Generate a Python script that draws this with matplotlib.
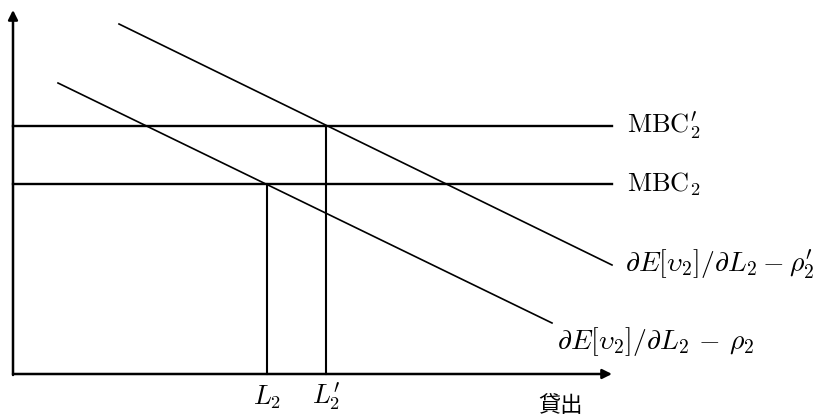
import matplotlib
matplotlib.use('Agg')
import matplotlib.pyplot as plt

plt.rcParams['mathtext.fontset'] = 'cm'

# curve endpoints (loan amount, marginal value) in diagram units
upper_x = [106, 599]
upper_y = [350, 109]
lower_x = [45, 539]
lower_y = [291, 51]

# marginal cost levels
mbc_levels = [248, 190]
mbc_labels = [r"$\mathrm{MBC}_2'$", r"$\mathrm{MBC}_2$"]

# equilibrium loan levels
loan_x = [254, 313]
loan_y = [190, 248]
loan_labels = [r"$L_2$", r"$L_2'$"]

curve_labels = [r"$\partial E[\upsilon_2]/\partial L_2-\rho_2'$",
                r"$\partial E[\upsilon_2]/\partial L_2\,-\,\rho_2$"]

x_end = 599
y_end = 364

fig = plt.figure(figsize=(8.19, 4.16), dpi=100)
ax = fig.add_axes([0, 0, 1, 1])
ax.set_xlim(-13, 806)
ax.set_ylim(-42, 374)
ax.axis('off')

# axes with arrows
ax.annotate('', xy=(x_end, 0), xytext=(0, 0),
            arrowprops=dict(arrowstyle='-|>', color='black', lw=1.8,
                            mutation_scale=14, shrinkA=0, shrinkB=0))
ax.annotate('', xy=(0, y_end), xytext=(0, -1),
            arrowprops=dict(arrowstyle='-|>', color='black', lw=1.8,
                            mutation_scale=14, shrinkA=0, shrinkB=0))

# horizontal MBC lines
for lvl, lab in zip(mbc_levels, mbc_labels):
    ax.plot([0, x_end], [lvl, lvl], color='black', lw=1.7)
    ax.text(x_end + 15, lvl, lab, fontsize=19, va='center', ha='left')

# downward sloping curves
ax.plot(upper_x, upper_y, color='black', lw=1.2)
ax.plot(lower_x, lower_y, color='black', lw=1.2)
ax.text(upper_x[1] + 13, upper_y[1] + 1, curve_labels[0], fontsize=20,
        va='center', ha='left')
ax.text(lower_x[1] + 5, lower_y[1] - 19, curve_labels[1], fontsize=20,
        va='center', ha='left')

# vertical drop lines and labels
for lx, ly, lab in zip(loan_x, loan_y, loan_labels):
    ax.plot([lx, lx], [0, ly], color='black', lw=1.5)
    ax.text(lx, -23, lab, fontsize=19, va='center', ha='center')

ax.text(548, -32, '貸出', fontsize=16, va='center', ha='center',
        family=['Noto Sans CJK JP', 'DejaVu Sans'])

fig.savefig('out.png', dpi=100, facecolor='white')
